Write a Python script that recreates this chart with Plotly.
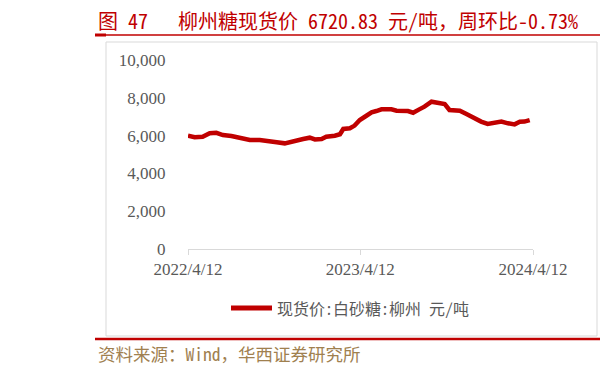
import plotly.graph_objects as go

dates = ["2022-04-12", "2022-04-26", "2022-05-13", "2022-05-28", "2022-06-11", "2022-06-25",
         "2022-07-13", "2022-07-31", "2022-08-21", "2022-09-11", "2022-09-29", "2022-10-17",
         "2022-11-03", "2022-11-14", "2022-12-01", "2022-12-12", "2022-12-26", "2023-01-06",
         "2023-01-20", "2023-01-30", "2023-02-17", "2023-02-28", "2023-03-07", "2023-03-21",
         "2023-03-31", "2023-04-11", "2023-04-25", "2023-05-06", "2023-05-16", "2023-05-27",
         "2023-06-17", "2023-06-28", "2023-07-22", "2023-08-02", "2023-08-16", "2023-08-26",
         "2023-09-10", "2023-09-24", "2023-10-08", "2023-10-18", "2023-11-09", "2023-11-23",
         "2023-12-10", "2023-12-24", "2024-01-07", "2024-01-22", "2024-02-05", "2024-02-19",
         "2024-03-04", "2024-03-15", "2024-03-25", "2024-04-05"]
prices = [6000, 5910, 5940, 6120, 6150, 6030,
          5980, 5860, 5770, 5765, 5680, 5645,
          5590, 5670, 5760, 5820, 5890, 5800,
          5820, 5940, 5995, 6070, 6350, 6385,
          6530, 6825, 7050, 7230, 7300, 7390,
          7390, 7320, 7300, 7210, 7400, 7530,
          7795, 7710, 7670, 7355, 7320, 7145,
          6915, 6740, 6615, 6700, 6740, 6650,
          6595, 6735, 6740, 6820]
x_ticks = ["2022-04-12", "2023-04-12", "2024-04-12"]
x_tick_labels = ["2022/4/12", "2023/4/12", "2024/4/12"]
y_ticks = [0, 2000, 4000, 6000, 8000, 10000]

series_name = "现货价:白砂糖:柳州 元/吨"
title_text = "图 47&nbsp;&nbsp;&nbsp;柳州糖现货价 6720.83 元/吨，周环比-0.73%"
source_text = "资料来源：Wind，华西证券研究所"

RED = "#c00000"
GRAY = "#595959"
serif = "Liberation Serif, Times New Roman, serif"
cjk_mono = "Noto Sans Mono CJK SC, Noto Sans CJK SC, sans-serif"

W_, H_ = 600, 371
L, R, T, B = 188, 533, 60, 249


def px(x):
    return (x - L) / (R - L)


def py(y):
    return (B - y) / (B - T)


fig = go.Figure()
fig.add_trace(go.Scatter(x=dates, y=prices, mode="lines", name=series_name,
                         line=dict(color=RED, width=4.5), showlegend=False))

fig.update_layout(
    width=W_, height=H_,
    margin=dict(l=L, r=W_ - R, t=T, b=H_ - B),
    plot_bgcolor="white", paper_bgcolor="white",
    showlegend=False,
    xaxis=dict(type="date", range=[x_ticks[0], x_ticks[-1]], tickvals=x_ticks,
               ticktext=x_tick_labels, showgrid=False, showline=True, linecolor="#d9d9d9",
               linewidth=1, ticks="outside", ticklen=5, tickcolor="#d9d9d9",
               tickfont=dict(family=serif, size=17, color=GRAY), zeroline=False),
    yaxis=dict(range=[0, 10000], tickvals=y_ticks, tickformat=",", showgrid=False,
               showline=False, zeroline=False, ticks="outside", ticklen=18,
               tickcolor="rgba(0,0,0,0)",
               tickfont=dict(family=serif, size=17, color=GRAY)),
    shapes=[
        dict(type="rect", xref="paper", yref="paper", x0=px(106), x1=px(597),
             y0=py(336), y1=py(42), line=dict(color="#d9d9d9", width=1), layer="below"),
        dict(type="line", xref="paper", yref="paper", x0=px(95), x1=px(600),
             y0=py(35), y1=py(35), line=dict(color=RED, width=1.5)),
        dict(type="line", xref="paper", yref="paper", x0=px(95), x1=px(106),
             y0=py(35), y1=py(35), line=dict(color=RED, width=3)),
        dict(type="line", xref="paper", yref="paper", x0=px(95), x1=px(600),
             y0=py(339), y1=py(339), line=dict(color=RED, width=2.5)),
        # legend sample
        dict(type="line", xref="paper", yref="paper", x0=px(231), x1=px(272),
             y0=py(308), y1=py(308), line=dict(color=RED, width=5)),
    ],
    annotations=[
        dict(text=title_text, xref="paper", yref="paper", x=px(96), y=py(20),
             xanchor="left", yanchor="middle", showarrow=False,
             font=dict(family=cjk_mono, size=20, color=RED)),
        dict(text=source_text, xref="paper", yref="paper", x=px(96), y=py(353),
             xanchor="left", yanchor="middle", showarrow=False,
             font=dict(family=cjk_mono, size=17.5, color="#a0804f")),
        dict(text=series_name, xref="paper", yref="paper", x=px(275), y=py(308),
             xanchor="left", yanchor="middle", showarrow=False,
             font=dict(family=cjk_mono, size=16, color=GRAY)),
    ],
)

fig.write_html("out.html")
